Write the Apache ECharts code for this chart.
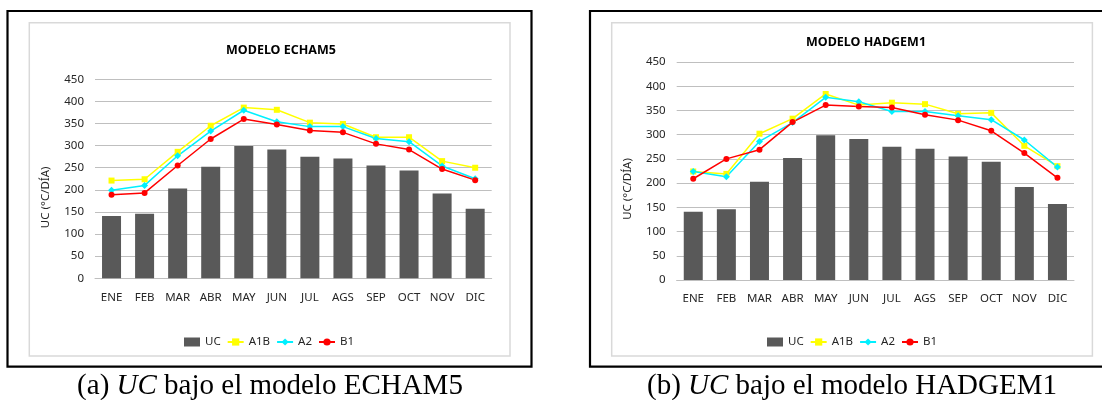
<!DOCTYPE html>
<html>
<head>
<meta charset="utf-8">
<title>UC bajo ECHAM5 y HADGEM1</title>
<script src="https://cdn.jsdelivr.net/npm/echarts@6.0.0/dist/echarts.min.js"></script>
<style>
    html, body { margin: 0; padding: 0; background: #fff; }
    #main { width: 1102px; height: 400px; }
</style>
</head>
<body>
<div id="main"></div>
<script>
// eje x y escala del eje y
const months = ['ENE', 'FEB', 'MAR', 'ABR', 'MAY', 'JUN', 'JUL', 'AGS', 'SEP', 'OCT', 'NOV', 'DIC'];
const yMin = 0;
const yMax = 450;
const yStep = 50;

// UC observada (barras, la misma en los dos graficos)
const ucObs = [141, 146, 203, 252, 299, 291, 275, 271, 255, 244, 192, 157];

// modelo ECHAM5
const echamA1B = [221, 224, 286, 345, 386, 381, 352, 349, 319, 319, 265, 250];
const echamA2 = [199, 210, 277, 333, 380, 354, 343, 343, 316, 309, 254, 225];
const echamB1 = [189, 193, 255, 315, 360, 348, 334, 330, 304, 291, 247, 222];

// modelo HADGEM1
const hadgemA1B = [224, 219, 302, 333, 384, 361, 366, 363, 343, 345, 277, 235];
const hadgemA2 = [224, 213, 286, 325, 377, 368, 348, 348, 339, 331, 289, 233];
const hadgemB1 = [209, 250, 269, 326, 361, 358, 356, 341, 330, 308, 262, 211];

const chartDom = document.getElementById('main');
let myChart = echarts.init(chartDom);
let option;

const font = 'Noto Sans';
const textColor = '#262626';
const gridColor = '#BFBFBF';

function lineSeries(name, idx, color, symbol, size, data) {
    return {
        name: name,
        type: 'line',
        xAxisIndex: idx,
        yAxisIndex: idx,
        symbol: symbol,
        symbolSize: size,
        lineStyle: { color: color, width: 1.5 },
        itemStyle: { color: color },
        data: data
    };
}

function seriesFor(idx, a1b, a2, b1) {
    return [
        {
            name: 'UC',
            type: 'bar',
            xAxisIndex: idx,
            yAxisIndex: idx,
            barWidth: 19,
            itemStyle: { color: '#595959' },
            data: ucObs
        },
        lineSeries('A1B', idx, '#FFFF00', 'rect', 6, a1b),
        lineSeries('A2', idx, '#00F0FF', 'diamond', 7, a2),
        lineSeries('B1', idx, '#FF0000', 'circle', 6, b1)
    ];
}

function xAxisFor(idx) {
    return {
        type: 'category',
        gridIndex: idx,
        data: months,
        axisTick: { show: false },
        axisLine: { lineStyle: { color: gridColor, width: 1 } },
        axisLabel: { color: textColor, fontFamily: font, fontSize: 11.5, margin: 13, interval: 0 }
    };
}

function yAxisFor(idx, shift) {
    return {
        type: 'value',
        gridIndex: idx,
        min: yMin,
        max: yMax,
        interval: yStep,
        name: 'UC (°C/DÍA)',
        nameLocation: 'middle',
        nameGap: 43,
        nameTextStyle: { color: textColor, fontFamily: font, fontSize: 11.5, padding: [0, shift, 0, 0] },
        axisLine: { show: false },
        axisTick: { show: false },
        axisLabel: { color: textColor, fontFamily: font, fontSize: 11.5, margin: 11 },
        splitLine: { lineStyle: { color: gridColor, width: 1 } }
    };
}

function legendFor(left) {
    return {
        left: left,
        top: 336,
        itemWidth: 16,
        itemHeight: 9,
        itemGap: 6,
        padding: 0,
        textStyle: { color: textColor, fontFamily: font, fontSize: 11.5 },
        data: [{ name: 'UC', icon: 'rect' }, 'A1B', 'A2', 'B1']
    };
}

function caption(text, left) {
    return {
        text: text,
        left: left,
        top: 371,
        textAlign: 'center',
        padding: 0,
        textStyle: {
            fontFamily: 'Liberation Serif',
            fontSize: 29,
            fontWeight: 'normal',
            color: '#000',
            lineHeight: 30,
            rich: {
                i: { fontFamily: 'Liberation Serif', fontSize: 29, fontStyle: 'italic', color: '#000', lineHeight: 30 }
            }
        }
    };
}

option = {
    backgroundColor: '#fff',
    animation: false,
    title: [
        {
            text: 'MODELO ECHAM5',
            left: 281,
            top: 44,
            textAlign: 'center',
            padding: 0,
            textStyle: { fontFamily: font, fontSize: 12.5, fontWeight: 'bold', color: '#000' }
        },
        {
            text: 'MODELO HADGEM1',
            left: 866,
            top: 36,
            textAlign: 'center',
            padding: 0,
            textStyle: { fontFamily: font, fontSize: 12.5, fontWeight: 'bold', color: '#000' }
        },
        caption('(a) {i|UC} bajo el modelo ECHAM5', 270),
        caption('(b) {i|UC} bajo el modelo HADGEM1', 852)
    ],
    // marcos: negro exterior y gris del area del grafico
    graphic: [
        { type: 'rect', shape: { x: 7.5, y: 11, width: 524, height: 355.7 }, style: { fill: 'none', stroke: '#000', lineWidth: 2.2 } },
        { type: 'rect', shape: { x: 590, y: 11, width: 524, height: 355.7 }, style: { fill: 'none', stroke: '#000', lineWidth: 2.2 } },
        { type: 'rect', shape: { x: 29.3, y: 22.7, width: 480.7, height: 333.3 }, style: { fill: 'none', stroke: '#D9D9D9', lineWidth: 1.5 } },
        { type: 'rect', shape: { x: 611.7, y: 22.7, width: 480.7, height: 333.3 }, style: { fill: 'none', stroke: '#D9D9D9', lineWidth: 1.5 } }
    ],
    legend: [legendFor(184), legendFor(767)],
    grid: [
        { left: 95, top: 79.3, width: 396.7, height: 199 },
        { left: 676.7, top: 62, width: 397.3, height: 218 }
    ],
    xAxis: [xAxisFor(0), xAxisFor(1)],
    yAxis: [yAxisFor(0, 37), yAxisFor(1, 36)],
    series: seriesFor(0, echamA1B, echamA2, echamB1).concat(seriesFor(1, hadgemA1B, hadgemA2, hadgemB1))
};

option && myChart.setOption(option);
</script>
</body>
</html>
